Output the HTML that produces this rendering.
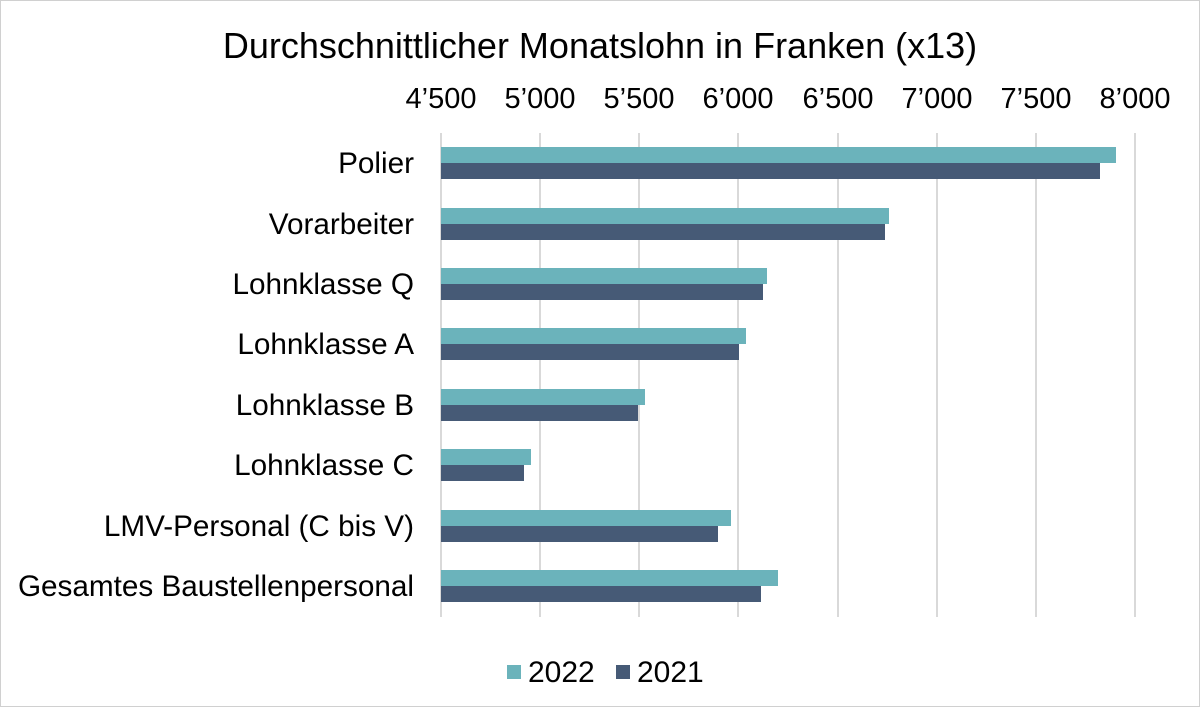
<!DOCTYPE html>
<html><head><meta charset="utf-8"><style>
html,body{margin:0;padding:0;background:#fff;}
svg{display:block;font-family:"Liberation Sans",Arial,sans-serif;}
</style></head><body>
<svg width="1200" height="707" viewBox="0 0 1200 707">
<rect x="0.5" y="0.5" width="1199" height="706" fill="#fff" stroke="#d0d0d0"/>
<text x="600" y="58" font-size="36" text-anchor="middle" fill="#000">Durchschnittlicher Monatslohn in Franken (x13)</text>
<g stroke="#d9d9d9" stroke-width="2">
<line x1="441" y1="133" x2="441" y2="617"/><line x1="540" y1="133" x2="540" y2="617"/>
<line x1="639" y1="133" x2="639" y2="617"/><line x1="738" y1="133" x2="738" y2="617"/>
<line x1="838" y1="133" x2="838" y2="617"/><line x1="937" y1="133" x2="937" y2="617"/>
<line x1="1036" y1="133" x2="1036" y2="617"/><line x1="1135" y1="133" x2="1135" y2="617"/>
</g>
<g font-size="29" text-anchor="middle" fill="#000">
<text x="441" y="108">4’500</text><text x="540" y="108">5’000</text><text x="639" y="108">5’500</text>
<text x="738" y="108">6’000</text><text x="838" y="108">6’500</text><text x="937" y="108">7’000</text>
<text x="1036" y="108">7’500</text><text x="1135" y="108">8’000</text>
</g>
<g fill="#6bb3bb">
<rect x="441" y="147" width="675" height="16"/><rect x="441" y="208" width="448" height="16"/>
<rect x="441" y="268" width="326" height="16"/><rect x="441" y="328" width="305" height="16"/>
<rect x="441" y="389" width="204" height="16"/><rect x="441" y="449" width="90" height="16"/>
<rect x="441" y="510" width="290" height="16"/><rect x="441" y="570" width="337" height="16"/>
</g>
<g fill="#465a76">
<rect x="441" y="163" width="659" height="16"/><rect x="441" y="224" width="444" height="16"/>
<rect x="441" y="284" width="322" height="16"/><rect x="441" y="344" width="298" height="16"/>
<rect x="441" y="405" width="197" height="16"/><rect x="441" y="465" width="83" height="16"/>
<rect x="441" y="526" width="277" height="16"/><rect x="441" y="586" width="320" height="16"/>
</g>
<g font-size="29.7" text-anchor="end" fill="#000">
<text x="414" y="173">Polier</text><text x="414" y="234">Vorarbeiter</text>
<text x="414" y="294">Lohnklasse Q</text><text x="414" y="354">Lohnklasse A</text>
<text x="414" y="415">Lohnklasse B</text><text x="414" y="475">Lohnklasse C</text>
<text x="414" y="536">LMV-Personal (C bis V)</text><text x="414" y="596">Gesamtes Baustellenpersonal</text>
</g>
<rect x="507" y="665" width="14" height="14" fill="#6bb3bb"/>
<text x="528" y="682" font-size="30" fill="#000">2022</text>
<rect x="616" y="665" width="14" height="14" fill="#465a76"/>
<text x="637" y="682" font-size="30" fill="#000">2021</text>
</svg>
</body></html>
